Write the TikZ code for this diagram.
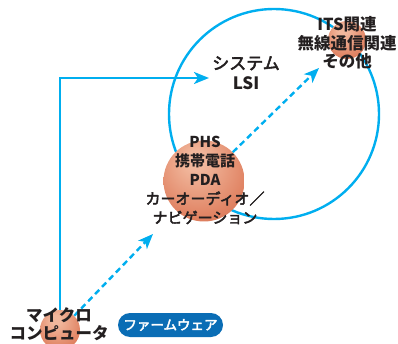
\documentclass[tikz,border=0pt]{standalone}
\usepackage{fontspec}
\newfontfamily\jp{Noto Sans CJK JP}
\newfontfamily\jpm[FakeBold=3]{Noto Sans CJK JP}
\usetikzlibrary{arrows.meta}
\definecolor{cy}{HTML}{00AEEF}
\definecolor{pillblue}{HTML}{0A6DB5}
\definecolor{txt}{HTML}{231F20}
\definecolor{sA}{HTML}{F1B79C}
\definecolor{sB}{HTML}{E08262}
\definecolor{sC}{HTML}{BF5D3C}
\definecolor{sD}{HTML}{923C24}
\pgfdeclareradialshading{sphereshade}{\pgfpoint{-6bp}{14bp}}{color(0bp)=(sA); color(6bp)=(sA); color(30bp)=(sB); color(50bp)=(sC); color(66bp)=(sD)}
\tikzset{
  sph/.style={circle, inner sep=0pt, shading=sphereshade},
  conn/.style={draw=cy, line width=2.4pt, -{Stealth[length=15pt,width=12pt,inset=4pt]}},
  dconn/.style={conn, dash pattern=on 6pt off 4pt},
  lbl/.style={text=txt, align=center, inner sep=0pt},
  pill/.style={fill=pillblue, rounded corners=12pt, minimum width=105pt, minimum height=24pt, inner sep=0pt, text=white, font=\jpm\fontsize{13.5}{15}\selectfont}
}
\begin{document}
\begin{tikzpicture}[x=1pt,y=-1pt]
\useasboundingbox (0,0) rectangle (398,344);
% big circle
\node[circle, draw=cy, line width=2.4pt, minimum size=210pt, inner sep=0pt] (sys) at (274,114) {};
% spheres
\node[sph, minimum size=40pt] (mc) at (60,330) {};
\node[sph, minimum size=81pt] (phs) at (204,181) {};
\node[sph, minimum size=38pt] (its) at (347,40) {};
% connectors
\coordinate (lsiin) at (209,78);
\coordinate (d1end) at (153,234);
\coordinate (d2end) at (319,68);
\draw[conn] (mc.north) |- (lsiin);
\draw[dconn] (mc.45) -- (d1end);
\draw[dconn] (phs.45) -- (d2end);
% labels
\node[lbl, font=\jp\bfseries\fontsize{16.5}{18}\selectfont] (mct) at (59,324) {マイクロ\\コンピュータ};
\node[pill] (fw) at (170.5,325) {ファームウェア};
\node[lbl, font=\jpm\fontsize{15}{19}\selectfont] (phst) at (205,180) {{\jp\bfseries PHS}\\{\jp\bfseries 携帯電話}\\{\jp\bfseries PDA}\\カーオーディオ／\\ナビゲーション};
\node[lbl, font=\jpm\fontsize{17}{20}\selectfont] (syst) at (246,73) {システム\\{\jp\bfseries LSI}};
\node[lbl, font=\jp\bfseries\fontsize{16.5}{18.5}\selectfont] (itst) at (347,43) {ITS関連\\無線通信関連\\その他};
\end{tikzpicture}
\end{document}
